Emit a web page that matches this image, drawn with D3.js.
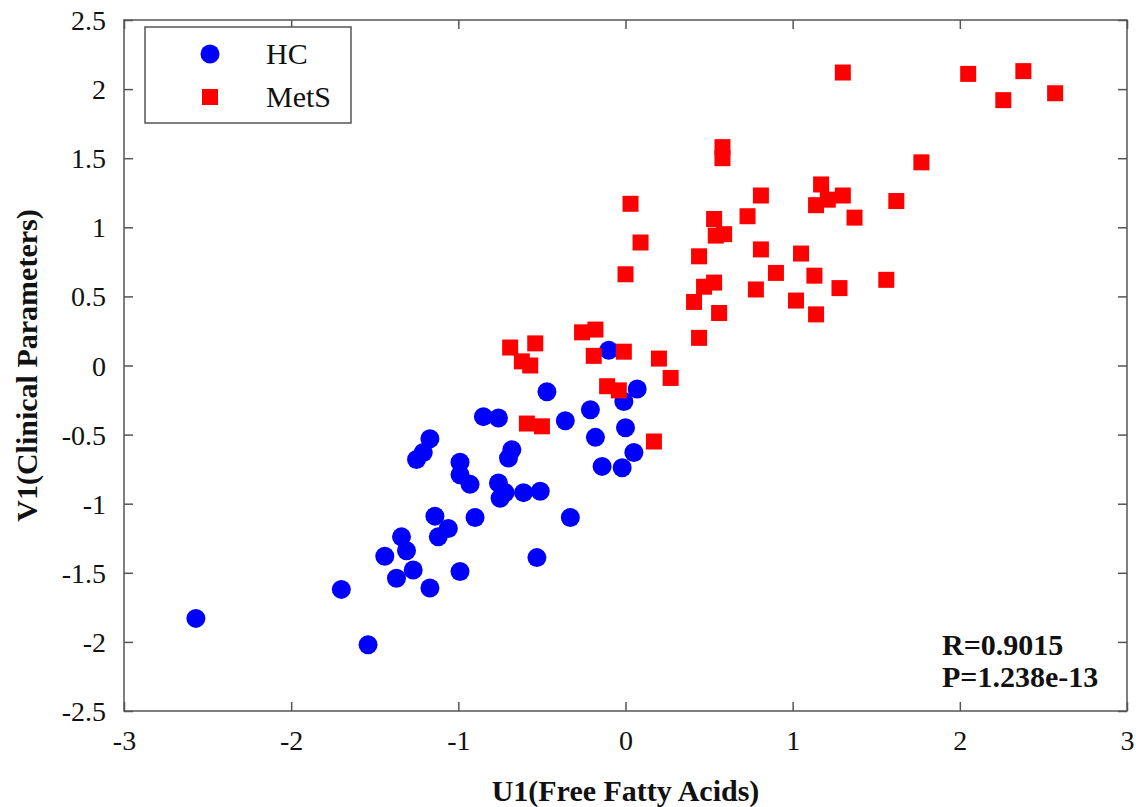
<!DOCTYPE html>
<html>
<head>
<meta charset="utf-8">
<script src="https://cdn.jsdelivr.net/npm/d3@7"></script>
<style>
  html, body { margin: 0; padding: 0; background: #fff; }
  svg { display: block; }
</style>
</head>
<body>
<svg id="chart" width="1136" height="807"></svg>
<script>
// Healthy controls: canonical scores (U1 free fatty acids, V1 clinical parameters)
const hcU = [-2.57, -1.54, -1.70, -1.44, -1.37, -1.27, -1.31, -1.34, -1.17, -0.99,
             -1.14, -1.06, -1.12, -0.90, -1.17, -1.21, -1.25, -0.85, -0.76, -0.99,
             -0.99, -0.93, -0.76, -0.72, -0.75, -0.61, -0.51, -0.68, -0.70, -0.47,
             -0.36, -0.21, -0.01, 0.07, 0.00, -0.18, 0.05, -0.14, -0.02, -0.10,
             -0.33, -0.53];
const hcV = [-1.83, -2.02, -1.62, -1.38, -1.54, -1.48, -1.34, -1.24, -1.61, -1.49,
             -1.09, -1.18, -1.24, -1.10, -0.53, -0.63, -0.68, -0.37, -0.38, -0.70,
             -0.79, -0.86, -0.85, -0.92, -0.96, -0.92, -0.91, -0.61, -0.67, -0.19,
             -0.40, -0.32, -0.26, -0.17, -0.45, -0.52, -0.63, -0.73, -0.74, 0.11,
             -1.10, -1.39];

// Metabolic syndrome group
const metsU = [-0.69, -0.54, -0.62, -0.57, -0.26, -0.18, -0.19, -0.01, 0.20, 0.27,
               -0.11, -0.04, -0.59, -0.50, 0.17, 0.44, 0.41, 0.56, 0.58, 0.58,
               1.77, 0.03, 0.81, 1.17, 1.21, 1.14, 1.30, 1.62, 1.37, 0.73,
               0.53, 0.54, 0.59, 0.09, 0.44, 0.81, 1.05, 0.00, 0.90, 1.13,
               1.56, 0.53, 0.47, 0.78, 1.28, 1.02, 1.14, 2.05, 2.38, 2.26,
               2.57, 1.30];
const metsV = [0.13, 0.16, 0.03, 0.00, 0.24, 0.26, 0.07, 0.10, 0.05, -0.09,
               -0.15, -0.18, -0.42, -0.44, -0.55, 0.20, 0.46, 0.38, 1.58, 1.50,
               1.47, 1.17, 1.23, 1.31, 1.20, 1.16, 1.23, 1.19, 1.07, 1.08,
               1.06, 0.94, 0.95, 0.89, 0.79, 0.84, 0.81, 0.66, 0.67, 0.65,
               0.62, 0.60, 0.57, 0.55, 0.56, 0.47, 0.37, 2.11, 2.13, 1.92,
               1.97, 2.12];

const xTicks = [-3, -2, -1, 0, 1, 2, 3];
const yTicks = [-2.5, -2, -1.5, -1, -0.5, 0, 0.5, 1, 1.5, 2, 2.5];
const legendLabels = ["HC", "MetS"];
const statLines = ["R=0.9015", "P=1.238e-13"];
const xTitle = "U1(Free Fatty Acids)";
const yTitle = "V1(Clinical Parameters)";

const serif = "'Liberation Serif', 'Times New Roman', Times, 'DejaVu Serif', serif";
const plot = { left: 124, right: 1127, top: 20, bottom: 711 };
const svg = d3.select("#chart");

const x = d3.scaleLinear().domain([-3, 3]).range([plot.left, plot.right]);
const y = d3.scaleLinear().domain([-2.5, 2.5]).range([plot.bottom, plot.top]);

const frameColor = "#555";
const textColor = "#111";
const fmt = d => String(d);

// Axes with inward ticks on all four sides
function styleAxis(g) {
  g.attr("font-family", null).attr("font-size", null);
  g.select(".domain").remove();
  g.selectAll(".tick line").attr("stroke", frameColor).attr("stroke-width", 1.5);
  g.selectAll("text").style("font-family", serif).style("font-size", "28px").attr("fill", textColor);
}

const gx = svg.append("g").attr("transform", `translate(0,${plot.bottom})`)
  .call(d3.axisBottom(x).tickValues(xTicks).tickFormat(fmt).tickSizeInner(-9).tickSizeOuter(0).tickPadding(0));
styleAxis(gx);
gx.selectAll("text").attr("dy", null).attr("y", 39);

const gy = svg.append("g").attr("transform", `translate(${plot.left},0)`)
  .call(d3.axisLeft(y).tickValues(yTicks).tickFormat(fmt).tickSizeInner(-9).tickSizeOuter(0).tickPadding(0));
styleAxis(gy);
gy.selectAll("text").attr("x", -18).attr("dy", "0.34em");

const gt = svg.append("g").attr("transform", `translate(0,${plot.top})`)
  .call(d3.axisTop(x).tickValues(xTicks).tickFormat("").tickSizeInner(-9).tickSizeOuter(0));
styleAxis(gt);

const gr = svg.append("g").attr("transform", `translate(${plot.right},0)`)
  .call(d3.axisRight(y).tickValues(yTicks).tickFormat("").tickSizeInner(-9).tickSizeOuter(0));
styleAxis(gr);

// Plot frame
svg.append("rect")
  .attr("x", plot.left).attr("y", plot.top)
  .attr("width", plot.right - plot.left).attr("height", plot.bottom - plot.top)
  .attr("fill", "none").attr("stroke", frameColor).attr("stroke-width", 1.5);

// Scatter points
const hc = hcU.map((u, i) => ({ u, v: hcV[i] }));
const mets = metsU.map((u, i) => ({ u, v: metsV[i] }));

svg.append("g").selectAll("circle").data(hc).join("circle")
  .attr("cx", d => x(d.u)).attr("cy", d => y(d.v)).attr("r", 9.5)
  .attr("fill", "#0000ff");

const sq = 16;
svg.append("g").selectAll("rect").data(mets).join("rect")
  .attr("x", d => x(d.u) - sq / 2).attr("y", d => y(d.v) - sq / 2)
  .attr("width", sq).attr("height", sq)
  .attr("fill", "#ff0000");

// Legend
const lg = svg.append("g");
lg.append("rect").attr("x", 145).attr("y", 27).attr("width", 206).attr("height", 96)
  .attr("fill", "#fff").attr("stroke", frameColor).attr("stroke-width", 1.5);
lg.append("circle").attr("cx", 210).attr("cy", 54).attr("r", 9.5).attr("fill", "#0000ff");
lg.append("rect").attr("x", 210 - sq / 2).attr("y", 97 - sq / 2).attr("width", sq).attr("height", sq).attr("fill", "#ff0000");
lg.selectAll("text").data(legendLabels).join("text")
  .attr("x", 266).attr("y", (d, i) => 64 + i * 43)
  .attr("fill", textColor)
  .style("font-family", serif).style("font-size", "30px")
  .text(d => d);

// Correlation statistics
svg.append("g").selectAll("text").data(statLines).join("text")
  .attr("x", 942).attr("y", (d, i) => 655 + i * 32)
  .attr("fill", textColor)
  .style("font-family", serif).style("font-size", "30px").style("font-weight", "bold")
  .text(d => d);

// Axis titles
svg.append("text")
  .attr("x", (plot.left + plot.right) / 2).attr("y", 801)
  .attr("text-anchor", "middle").attr("fill", textColor)
  .style("font-family", serif).style("font-size", "30px").style("font-weight", "bold")
  .text(xTitle);

svg.append("text")
  .attr("transform", `translate(37,${(plot.top + plot.bottom) / 2}) rotate(-90)`)
  .attr("text-anchor", "middle").attr("fill", textColor)
  .style("font-family", serif).style("font-size", "30px").style("font-weight", "bold")
  .text(yTitle);
</script>
</body>
</html>
